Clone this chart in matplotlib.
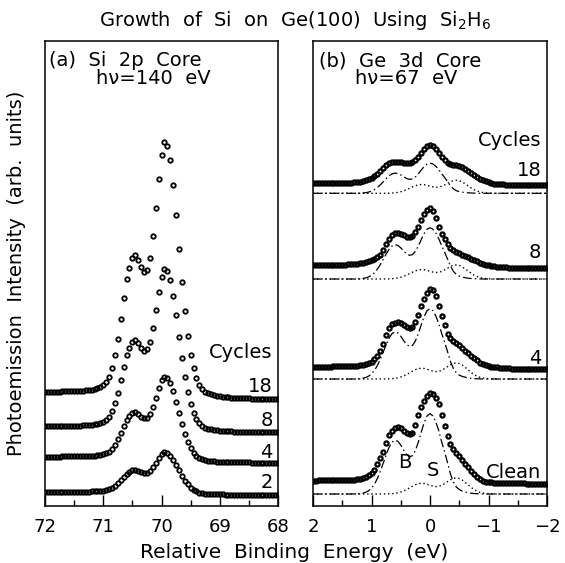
import numpy as np
import matplotlib.pyplot as plt

# ---- panel (a): Si 2p core, h nu = 140 eV ----
si_energy = np.linspace(72.0, 68.0, 81)
si_cycles = ["2", "4", "8", "18"]
si_offset = [11, 43, 73, 106]

si_2 = [3.2, 3.2, 3.2, 3.2, 3.2, 3.2, 3.3, 3.3, 3.3, 3.3, 3.3,
        3.4, 3.4, 3.4, 3.5, 3.5, 3.6, 3.7, 3.8, 4.0, 4.3,
        4.8, 5.7, 7.0, 9.1, 11.7, 14.9, 18.4, 21.4, 23.1, 24.7,
        25.1, 24.3, 23.0, 22.2, 22.5, 24.4, 27.9, 32.3, 37.0, 40.8,
        42.7, 42.0, 39.5, 35.5, 30.3, 24.7, 19.3, 14.5, 10.6, 7.5,
        5.1, 3.6, 2.5, 1.8, 1.4, 1.1, 0.9, 0.8, 0.7, 0.6,
        0.6, 0.5, 0.5, 0.4, 0.4, 0.4, 0.3, 0.3, 0.3, 0.3,
        0.2, 0.2, 0.2, 0.2, 0.2, 0.2, 0.2, 0.2, 0.2, 0.2]
si_4 = [6.4, 6.4, 6.4, 6.5, 6.5, 6.5, 6.6, 6.6, 6.6, 6.7, 6.7,
        6.7, 6.8, 6.8, 6.9, 7.1, 7.2, 7.3, 7.6, 8.0, 8.6,
        9.6, 11.4, 14.2, 18.3, 23.6, 30.1, 37.0, 43.2, 46.8, 49.8,
        50.8, 49.1, 46.5, 44.8, 45.5, 49.4, 56.5, 65.4, 74.8, 82.6,
        86.3, 84.9, 79.9, 71.7, 61.4, 50.0, 39.0, 29.4, 21.4, 15.0,
        10.5, 7.2, 5.0, 3.6, 2.7, 2.2, 1.9, 1.7, 1.4, 1.2,
        1.2, 1.1, 0.9, 0.8, 0.7, 0.7, 0.7, 0.7, 0.6, 0.6,
        0.5, 0.5, 0.5, 0.4, 0.4, 0.4, 0.3, 0.3, 0.3, 0.3]
si_8 = [6.8, 6.8, 6.8, 7.0, 7.0, 7.0, 7.1, 7.1, 7.1, 7.3, 7.3,
        7.4, 7.5, 7.6, 7.8, 8.1, 8.2, 8.6, 9.0, 9.8, 11.0,
        13.0, 16.5, 21.9, 29.8, 40.2, 52.8, 66.3, 78.2, 85.3, 91.3,
        93.4, 90.2, 85.4, 82.3, 83.6, 91.4, 105.1, 122.7, 141.1, 156.5,
        164.2, 161.9, 152.7, 137.1, 117.6, 95.8, 74.8, 56.3, 41.0, 28.9,
        20.1, 13.9, 9.6, 6.9, 5.3, 4.3, 3.7, 3.2, 2.7, 2.4,
        2.2, 2.1, 1.8, 1.6, 1.4, 1.4, 1.3, 1.3, 1.1, 1.1,
        1.0, 1.0, 1.0, 0.8, 0.8, 0.8, 0.6, 0.6, 0.6, 0.6]
si_18 = [8.3, 8.3, 8.3, 8.5, 8.5, 8.5, 8.8, 8.8, 8.8, 9.0, 9.0,
         9.3, 9.4, 9.5, 9.8, 10.3, 10.5, 11.0, 11.8, 13.0, 14.8,
         18.0, 23.5, 32.1, 44.6, 60.9, 80.9, 102.2, 121.0, 132.1, 141.8,
         145.1, 140.2, 132.7, 127.7, 129.8, 142.2, 163.9, 191.8, 220.9, 245.3,
         257.6, 254.2, 239.9, 215.5, 185.0, 150.6, 117.7, 88.6, 64.5, 45.5,
         31.6, 21.9, 15.1, 10.8, 8.3, 6.8, 5.8, 5.0, 4.3, 3.8,
         3.5, 3.3, 2.8, 2.5, 2.3, 2.3, 2.0, 2.0, 1.8, 1.8,
         1.5, 1.5, 1.5, 1.3, 1.3, 1.3, 1.0, 1.0, 1.0, 1.0]
si_spectra = [si_2, si_4, si_8, si_18]

# ---- panel (b): Ge 3d core, h nu = 67 eV ----
ge_energy = np.linspace(2.0, -2.0, 81)
ge_labels = ["Clean", "4", "8", "18"]
ge_offset = [12, 127, 227, 312.7]

ge_clean = [13.5, 13.5, 13.6, 13.6, 13.7, 13.7, 13.8, 13.8, 13.9, 13.9, 14.0,
            14.1, 14.2, 14.3, 14.5, 15.0, 15.5, 16.0, 17.5, 19.0, 21.0,
            24.5, 30.0, 36.0, 42.0, 51.0, 59.0, 63.0, 66.5, 67.0, 66.0,
            63.5, 61.0, 60.0, 61.0, 69.0, 79.0, 87.0, 93.0, 98.0, 101.0,
            100.0, 96.0, 90.0, 79.0, 68.0, 58.0, 50.0, 45.0, 41.5, 38.0,
            34.0, 30.5, 27.0, 23.5, 20.0, 17.0, 15.0, 13.5, 12.5, 12.0,
            11.8, 11.5, 11.3, 11.0, 10.9, 10.8, 10.8, 10.7, 10.7, 10.7,
            10.6, 10.6, 10.5, 10.5, 10.4, 10.4, 10.3, 10.3, 10.2, 10.0]
ge_4 = [12.3, 12.3, 12.4, 12.4, 12.5, 12.5, 12.5, 12.6, 12.6, 12.7, 12.7,
        12.8, 12.9, 13.0, 13.2, 13.5, 13.8, 14.2, 14.8, 15.8, 17.0,
        20.0, 23.5, 28.5, 35.0, 44.0, 51.5, 55.0, 56.5, 56.8, 56.0,
        54.0, 52.0, 51.0, 52.0, 57.0, 64.0, 73.0, 80.5, 86.5, 90.0,
        89.0, 83.0, 73.0, 63.0, 54.0, 45.5, 41.0, 38.5, 36.5, 34.0,
        31.0, 28.5, 26.0, 23.5, 21.0, 18.8, 16.5, 15.0, 14.0, 13.0,
        12.5, 12.0, 11.6, 11.3, 11.0, 10.8, 10.6, 10.4, 10.3, 10.2,
        10.1, 10.0, 10.0, 9.9, 9.9, 9.8, 9.8, 9.7, 9.7, 9.6]
ge_8 = [14.0, 14.0, 14.0, 14.1, 14.1, 14.2, 14.2, 14.3, 14.3, 14.4, 14.4,
        14.5, 14.6, 14.7, 14.9, 15.2, 15.6, 16.1, 16.8, 17.8, 19.0,
        20.5, 22.0, 24.5, 29.0, 35.0, 40.0, 44.0, 45.7, 46.0, 45.3,
        43.8, 42.5, 42.3, 43.5, 47.0, 52.5, 59.0, 65.0, 69.5, 71.0,
        68.5, 61.0, 52.0, 45.0, 40.0, 35.0, 31.5, 29.0, 27.0, 25.8,
        24.5, 23.2, 21.8, 20.5, 19.0, 17.8, 16.5, 15.5, 14.5, 13.8,
        13.2, 12.8, 12.4, 12.1, 11.9, 11.7, 11.5, 11.4, 11.3, 11.2,
        11.1, 11.0, 11.0, 10.9, 10.9, 10.8, 10.8, 10.7, 10.7, 10.6]
ge_18 = [10.0, 10.0, 10.0, 10.1, 10.1, 10.1, 10.2, 10.2, 10.3, 10.3, 10.4,
         10.5, 10.6, 10.8, 11.0, 11.3, 11.7, 12.2, 13.0, 14.0, 15.3,
         17.0, 19.0, 22.5, 25.8, 28.5, 30.3, 31.3, 31.8, 31.7, 31.0,
         30.3, 30.0, 30.3, 31.5, 33.5, 36.5, 40.0, 44.0, 47.3, 48.3,
         47.0, 44.0, 40.0, 36.5, 33.0, 30.8, 29.5, 28.8, 28.3, 27.5,
         26.0, 24.0, 22.0, 20.0, 18.0, 16.3, 14.8, 13.3, 12.0, 11.0,
         10.3, 9.8, 9.4, 9.1, 8.9, 8.8, 8.7, 8.6, 8.6, 8.5,
         8.5, 8.4, 8.4, 8.4, 8.3, 8.3, 8.3, 8.2, 8.2, 8.2]
ge_spectra = [ge_clean, ge_4, ge_8, ge_18]

# fitted bulk (B) components, dash-dot
bulk_clean = [0.0] * 13 + [0.0, 0.1, 0.2, 0.4, 0.8, 1.7, 3.2, 5.8,
              9.8, 15.4, 22.5, 30.7, 39.1, 46.6, 51.8, 53.9, 52.7, 49.0,
              43.9, 39.4, 37.1, 38.3, 43.4, 51.8, 61.8, 71.4, 78.1, 80.4,
              78.0, 72.0, 63.2, 52.0, 42.0, 31.2, 20.0, 12.0, 7.0, 4.5,
              3.0, 2.0, 1.3, 0.8, 0.5, 0.3, 0.1] + [0.0] * 23
bulk_4 = [0.0] * 14 + [0.0, 0.1, 0.3, 0.7, 1.5, 2.8, 5.1,
          8.5, 13.4, 19.7, 26.9, 34.2, 40.7, 45.3, 47.2, 46.1, 42.8,
          38.4, 34.5, 32.5, 33.5, 38.0, 45.4, 54.0, 62.4, 68.3, 70.4,
          68.3, 63.0, 55.3, 45.5, 36.8, 27.3, 17.5, 10.5, 6.2, 3.9,
          2.6, 1.8, 1.1, 0.7, 0.4, 0.3, 0.1] + [0.0] * 23
bulk_8 = [0.0] * 15 + [0.1, 0.2, 0.5, 1.1, 2.1, 3.7,
          6.2, 9.8, 14.3, 19.6, 24.9, 29.7, 33.0, 34.4, 33.6, 31.2,
          28.0, 25.1, 23.7, 24.4, 27.7, 33.0, 39.4, 45.5, 49.8, 51.3,
          49.7, 45.9, 40.3, 33.2, 26.8, 19.9, 12.8, 7.7, 4.5, 2.9,
          1.9, 1.3, 0.8, 0.5, 0.3, 0.2, 0.1] + [0.0] * 23
bulk_18 = [0.0] * 16 + [0.1, 0.3, 0.6, 1.2, 2.2,
           3.7, 5.8, 8.4, 11.5, 14.7, 17.5, 19.4, 20.2, 19.8, 18.4,
           16.5, 14.8, 13.9, 14.4, 16.3, 19.4, 23.2, 26.8, 29.3, 30.2,
           29.3, 27.0, 23.7, 19.5, 15.8, 11.7, 7.5, 4.5, 2.6, 1.7,
           1.1, 0.8, 0.5, 0.3, 0.2, 0.1, 0.0] + [0.0] * 23
ge_bulk = [bulk_clean, bulk_4, bulk_8, bulk_18]

# fitted surface (S) components, dotted
surf_clean = [0.0] * 25 + [0.1, 0.2, 0.3, 0.6, 1.2, 2.0,
              3.1, 4.5, 6.1, 7.8, 9.3, 10.4, 10.8, 10.5, 9.8, 8.8,
              7.9, 7.4, 7.7, 8.7, 10.4, 12.4, 14.3, 15.6, 16.1, 15.5,
              14.0, 11.7, 9.2, 6.7, 4.6, 2.9, 1.7, 1.0, 0.5, 0.2, 0.1] + [0.0] * 19
surf_4 = [0.0] * 25 + [0.1, 0.2, 0.3, 0.6, 1.2, 2.0,
          3.1, 4.5, 6.1, 7.8, 9.3, 10.4, 10.8, 10.5, 9.8, 8.8,
          7.9, 7.4, 7.7, 8.7, 10.4, 12.4, 14.3, 15.6, 16.1, 15.5,
          14.0, 11.7, 9.2, 6.7, 4.6, 2.9, 1.7, 1.0, 0.5, 0.2, 0.1] + [0.0] * 19
surf_8 = [0.0] * 25 + [0.1, 0.1, 0.3, 0.6, 1.0, 1.7,
          2.7, 3.9, 5.4, 6.8, 8.1, 9.1, 9.4, 9.2, 8.6, 7.7,
          6.9, 6.5, 6.7, 7.6, 9.1, 10.8, 12.5, 13.7, 14.1, 13.6,
          12.2, 10.2, 8.1, 5.9, 4.0, 2.6, 1.5, 0.8, 0.4, 0.2, 0.1] + [0.0] * 19
surf_18 = [0.0] * 26 + [0.1, 0.3, 0.5, 0.9, 1.6,
           2.5, 3.7, 5.0, 6.4, 7.6, 8.4, 8.8, 8.6, 8.0, 7.1,
           6.4, 6.0, 6.2, 7.1, 8.4, 10.0, 11.6, 12.7, 13.1, 12.6,
           11.3, 9.5, 7.5, 5.5, 3.7, 2.4, 1.4, 0.8, 0.4, 0.2, 0.1] + [0.0] * 19
ge_surf = [surf_clean, surf_4, surf_8, surf_18]

fig = plt.figure(figsize=(5.65, 5.63), dpi=100)
ax1 = fig.add_axes([45 / 565, 57 / 563, 233 / 565, 465 / 563])
ax2 = fig.add_axes([313 / 565, 57 / 563, 234 / 565, 465 / 563])

for ax in (ax1, ax2):
    ax.set_ylim(0, 465)
    ax.set_yticks([])
    for s in ax.spines.values():
        s.set_linewidth(1.1)
    ax.tick_params(axis='x', which='major', direction='in', length=8, width=1.0,
                   pad=9, labelsize=13)
    ax.tick_params(axis='x', which='minor', direction='in', length=4.5, width=1.0)

ax1.set_xlim(72, 68)
ax1.set_xticks([72, 71, 70, 69, 68])
ax1.set_xticks([71.5, 70.5, 69.5, 68.5], minor=True)
ax1.set_xticklabels(["72", "71", "70", "69", "68"])

ax2.set_xlim(2, -2)
ax2.set_xticks([2, 1, 0, -1, -2])
ax2.set_xticks([1.5, 0.5, -0.5, -1.5], minor=True)
ax2.set_xticklabels(["2", "1", "0", "\u22121", "\u22122"])

# Si 2p spectra
for vals, off in zip(si_spectra, si_offset):
    ax1.plot(si_energy, np.array(vals) + off, linestyle='none', marker='o',
             ms=3.2, mfc='none', mec='black', mew=1.3)

# Ge 3d spectra with fit components
dashdot = (0, (7, 2.5, 1.2, 2.5))
for vals, bulk, surf, off in zip(ge_spectra, ge_bulk, ge_surf, ge_offset):
    ax2.plot(ge_energy, np.array(bulk) + off, color='black', lw=0.9, ls=dashdot)
    ax2.plot(ge_energy, np.array(surf) + off, color='black', lw=1.0, ls=(0, (1, 2)))
    ax2.plot(ge_energy, np.array(vals) + off, linestyle='none', marker='o',
             ms=3.0, mfc='none', mec='black', mew=1.6)

# labels in panel (a)
ax1.text(0.017, 0.957, "(a)  Si  2p  Core", transform=ax1.transAxes, fontsize=14,
         ha='left', va='center')
ax1.text(0.464, 0.920, "h\u03bd=140  eV", transform=ax1.transAxes, fontsize=14,
         ha='center', va='center')
ax1.text(68.09, 154, "Cycles", fontsize=14, ha='right', va='center')
for lab, ypos in zip(si_cycles, [23, 53, 86, 119]):
    ax1.text(68.09, ypos, lab, fontsize=14, ha='right', va='center')

# labels in panel (b)
ax2.text(0.026, 0.957, "(b)  Ge  3d  Core", transform=ax2.transAxes, fontsize=14,
         ha='left', va='center')
ax2.text(0.40, 0.920, "h\u03bd=67  eV", transform=ax2.transAxes, fontsize=14,
         ha='center', va='center')
ax2.text(-1.9, 366, "Cycles", fontsize=14, ha='right', va='center')
for lab, ypos in zip(ge_labels, [34, 148, 253, 336]):
    ax2.text(-1.9, ypos, lab, fontsize=14, ha='right', va='center')
ax2.text(0.43, 43, "B", fontsize=14, ha='center', va='center')
ax2.text(-0.05, 35, "S", fontsize=14, ha='center', va='center')

fig.text(0.522, 0.963, "Growth  of  Si  on  Ge(100)  Using  Si$_2$H$_6$", fontsize=14,
         ha='center', va='center')
fig.text(0.030, 0.515, "Photoemission  Intensity  (arb.  units)", fontsize=14,
         rotation=90, ha='center', va='center')
fig.text(0.52, 0.018, "Relative  Binding  Energy  (eV)", fontsize=14.5,
         ha='center', va='center')

fig.savefig("out.png", dpi=100)
